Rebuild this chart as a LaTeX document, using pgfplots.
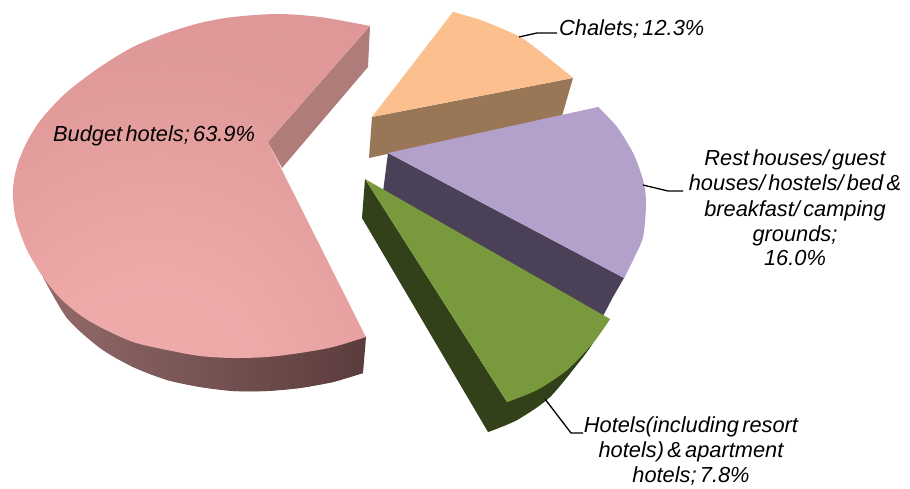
\documentclass[border=0pt]{standalone}
\usepackage{fontspec}
\setmainfont{Liberation Sans}
\newfontfamily\lab[WordSpace=0.55]{Liberation Sans}
\usepackage{pgfplots}
\pgfplotsset{compat=1.18}
\definecolor{peachTop}{HTML}{FBC08E}
\definecolor{peachSide}{HTML}{997655}
\definecolor{lilacTop}{HTML}{B4A1CB}
\definecolor{lilacSide}{HTML}{4A4058}
\definecolor{greenTop}{HTML}{789A3C}
\definecolor{greenSide}{HTML}{33411A}
\definecolor{roseCut}{HTML}{B07C7A}
\definecolor{roseA}{HTML}{936A6A}
\definecolor{roseB}{HTML}{5B3C3C}
\pgfdeclareradialshading{roseTop}{\pgfpoint{-6bp}{-33bp}}{%
  rgb(0bp)=(0.94,0.67,0.67);rgb(16bp)=(0.93,0.66,0.66);rgb(40bp)=(0.88,0.60,0.60);rgb(80bp)=(0.85,0.56,0.56);rgb(120bp)=(0.85,0.56,0.56)}
\tikzset{lbl/.style={font=\lab\itshape\fontsize{21.8}{24.6}\selectfont,inner sep=0pt,text=black}}
\pgfplotsset{face/.style={draw=none,mark=none,forget plot},
  arc/.style={draw=none,mark=none,forget plot,smooth}}
\begin{document}
\begin{tikzpicture}
\useasboundingbox (0,0) rectangle (910pt,489pt);
\begin{axis}[at={(0,0)},anchor=south west,scale only axis,width=910pt,height=489pt,
  xmin=0,xmax=910,ymin=0,ymax=489,y dir=reverse,hide axis,clip=false]
% Budget hotels: rim, top, notch, cut face
\addplot[face,shade,left color=roseA,middle color=roseB,right color=roseB] coordinates {
 (43,277)(67,318)(100,348)(133,367)(167,380)(200,387)(233,391)(267,391)(300,388)(333,382)(363,373)(366,337)(333,340)(300,345)(267,350)(233,350)(200,348)(167,342)(133,334)(100,319)(60,290)};
\addplot[arc,shade,left color=roseA,middle color=roseB,right color=roseB] coordinates {
 (43,277)(67,318)(100,348)(133,367)(167,380)(200,387)(233,391)(267,391)(300,388)(333,382)(363,373)};
\addplot[arc,shade,shading=roseTop] coordinates {
 (370,26)(320,17)(277,14)(233,17)(200,23)(167,33)(133,47)(100,67)(67,92)(43,117)(29,138)(19,160)(14,180)(13,197)(16,220)(27,250)(43,277)(60,298)(80,315)(100,327)(133,342)(167,350)(200,356)(233,358)(267,357)(300,353)(333,347)(366,337)};
\addplot[face,fill=white] coordinates {(268,142)(370,26)(380,26)(380,337)(366,337)};
\addplot[face,fill=roseCut] coordinates {(370,26)(368,67)(282,168)(268,142)};
% Chalets
\addplot[face,fill=peachSide] coordinates {(372,117)(573,78)(562,116)(369,158)};
\addplot[face,fill=peachTop] coordinates {(372,117)(453,12)(483,21)(520,37)(547,57)(573,78)};
\addplot[arc,fill=peachTop] coordinates {(453,12)(483,21)(520,37)(547,57)(573,78)};
% Rest houses
\addplot[face,fill=lilacSide] coordinates {(388,153)(624,278)(613,297)(602,318)(383,192)};
\addplot[face,fill=lilacTop] coordinates {(388,153)(598,107)(617,127)(633,153)(643,180)(646,203)(643,237)(633,260)(624,278)};
\addplot[arc,fill=lilacTop] coordinates {(598,107)(617,127)(633,153)(643,180)(646,203)(643,237)(633,260)(624,278)};
% Hotels
\addplot[face,fill=greenSide] coordinates {(365,179)(362,218)(488,432)(517,420)(550,397)(583,357)(593,343)(507,402)};
\addplot[arc,fill=greenSide] coordinates {(488,432)(517,420)(550,397)(583,357)(593,343)};
\addplot[face,fill=greenTop] coordinates {(365,179)(610,319)(593,343)(567,370)(537,390)(507,402)};
\addplot[arc,fill=greenTop] coordinates {(610,319)(593,343)(567,370)(537,390)(507,402)};
% leader lines
\addplot[mark=none,black,line width=1.3pt,forget plot] coordinates {(519,37)(537,33)(557,33)};
\addplot[mark=none,black,line width=1.3pt,forget plot] coordinates {(643,185)(668,191)(683,191)};
\addplot[mark=none,black,line width=1.3pt,forget plot] coordinates {(545,399)(571,433)(583,433)};
% labels
\node[lbl,anchor=base west] at (axis cs:53,142) {Budget hotels; 63.9\%};
\node[lbl,anchor=base west] at (axis cs:559,36) {Chalets; 12.3\%};
\node[lbl,anchor=base,align=center] at (axis cs:795,166) {Rest houses/ guest};
\node[lbl,anchor=base,align=center] at (axis cs:795,191) {houses/ hostels/ bed \&};
\node[lbl,anchor=base,align=center] at (axis cs:795,216) {breakfast/ camping};
\node[lbl,anchor=base,align=center] at (axis cs:795,241) {grounds;};
\node[lbl,anchor=base,align=center] at (axis cs:795,265) {16.0\%};
\node[lbl,anchor=base,align=center] at (axis cs:691,432) {Hotels(including resort};
\node[lbl,anchor=base,align=center] at (axis cs:691,457) {hotels) \& apartment};
\node[lbl,anchor=base,align=center] at (axis cs:691,482) {hotels; 7.8\%};
\end{axis}
\end{tikzpicture}
\end{document}
